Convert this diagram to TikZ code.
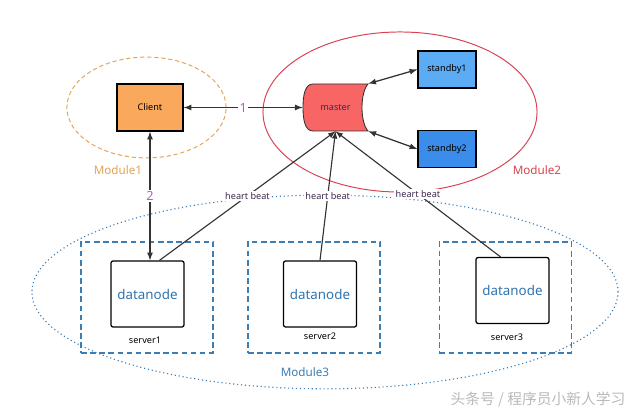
\documentclass[tikz,border=0pt]{standalone}
\usepackage{fontspec}
\setmainfont{Noto Sans}
\newfontfamily\cjkfont{Noto Sans CJK SC}
\usetikzlibrary{arrows,positioning,calc}

\definecolor{clientfill}{HTML}{FAA95C}
\definecolor{modorange}{HTML}{E2A457}
\definecolor{modred}{HTML}{D8434F}
\definecolor{masterfill}{HTML}{F86565}
\definecolor{sbyone}{HTML}{5CABF5}
\definecolor{sbytwo}{HTML}{3A8DEA}
\definecolor{modblue}{HTML}{3C7DB4}
\definecolor{dntext}{HTML}{2F73AE}
\definecolor{numpurple}{HTML}{B45CC8}
\definecolor{hbtext}{HTML}{3E2A4E}
\definecolor{linegray}{HTML}{333333}

\begin{document}
\begin{tikzpicture}[x=0.025cm,y=-0.025cm,
  box/.style={draw=black,line width=0.9pt,inner sep=0pt},
  small/.style={font=\fontsize{6.5}{7}\selectfont},
  modlabel/.style={font=\fontsize{8.3}{9}\selectfont},
  dnbox/.style={box,rounded corners=1.5pt,minimum width=1.825cm,minimum height=1.65cm,text=dntext,font=\fontsize{9.5}{10}\selectfont},
  server/.style={draw=modblue,line width=1pt,dash pattern=on 4pt off 2.5pt,minimum width=3.3cm,minimum height=2.775cm,inner sep=0pt},
  link/.style={draw=linegray,line width=0.9pt,latex-latex},
  beat/.style={draw=linegray,line width=0.8pt,-latex},
  beatlabel/.style={small,text=hbtext,fill=white,inner sep=1pt},
  num/.style={text=numpurple,font=\fontsize{9}{10}\selectfont,fill=white,inner sep=1pt}]
\useasboundingbox (0,0) rectangle (640,412);

% modules
\draw[modorange,line width=0.7pt,dash pattern=on 3pt off 2pt] (146.5,107.5) ellipse [x radius=1.99cm,y radius=1.26cm];
\draw[modred,line width=0.7pt] (400,112) ellipse [x radius=3.425cm,y radius=2cm];
\draw[modblue,line width=0.8pt,dotted] (325,292) ellipse [x radius=7.325cm,y radius=2.42cm];
\node[modlabel,text=modorange] (m1) at (118,170) {Module1};
\node[modlabel,text=modred] (m2) at (537,170) {Module2};
\node[modlabel,text=modblue] (m3) at (305,372) {Module3};

% client, master, standby
\node[box,small,fill=clientfill,minimum width=1.65cm,minimum height=1.175cm] (client) at (150,107.5) {Client};
\node[small,minimum width=1.625cm,minimum height=1.175cm,inner sep=0pt] (master) at (335.5,107.5) {};
\fill[masterfill,draw=linegray,line width=0.6pt] (313,84) .. controls (305,84) and (303,95) .. (303,107.5)
  .. controls (303,120) and (305,131) .. (313,131) -- (368,131)
  .. controls (360,122) and (360,93) .. (368,84) -- cycle;
\node[small,text=hbtext] at (master) {master};
\node[box,small,fill=sbyone,minimum width=1.45cm,minimum height=0.925cm] (sby1) at (447,69.5) {standby1};
\node[box,small,fill=sbytwo,minimum width=1.45cm,minimum height=0.925cm] (sby2) at (447,149) {standby2};

% servers
\node[server] (srv1) at (147,297.5) {};
\node[server] (srv2) at (314,297.5) {};
\node[server] (srv3) at (505.5,297.5) {};
\node[dnbox] (dn1) at (147.5,294) {datanode};
\node[dnbox] (dn2) at (320,294) {datanode};
\node[dnbox] (dn3) at (512.5,290.5) {datanode};
\node[small] (s1) at (145,340) {server1};
\node[small] (s2) at (320,336) {server2};
\node[small] (s3) at (507,337) {server3};

% links
\draw[link] (client.east) -- node[num] {1} (master.west);
\draw[link] (client.south) -- node[num] {2} (client.south |- dn1.north);
\draw[link] (master.north east) -- (sby1.west);
\draw[link] (master.south east) -- (sby2.west);

% heart beats
\draw[beat] ([xshift=0.3cm]dn1.north) -- node[beatlabel] {heart beat} (master.south);
\draw[beat] (dn2.north) -- node[beatlabel] {heart beat} (master.south);
\draw[beat] ([xshift=-0.3cm]dn3.north) -- node[beatlabel] {heart beat} (master.south);

\node[text=gray!55,font=\cjkfont\fontsize{10.5}{11}\selectfont] (mark) at (538,400) {头条号 / 程序员小新人学习};
\end{tikzpicture}
\end{document}
